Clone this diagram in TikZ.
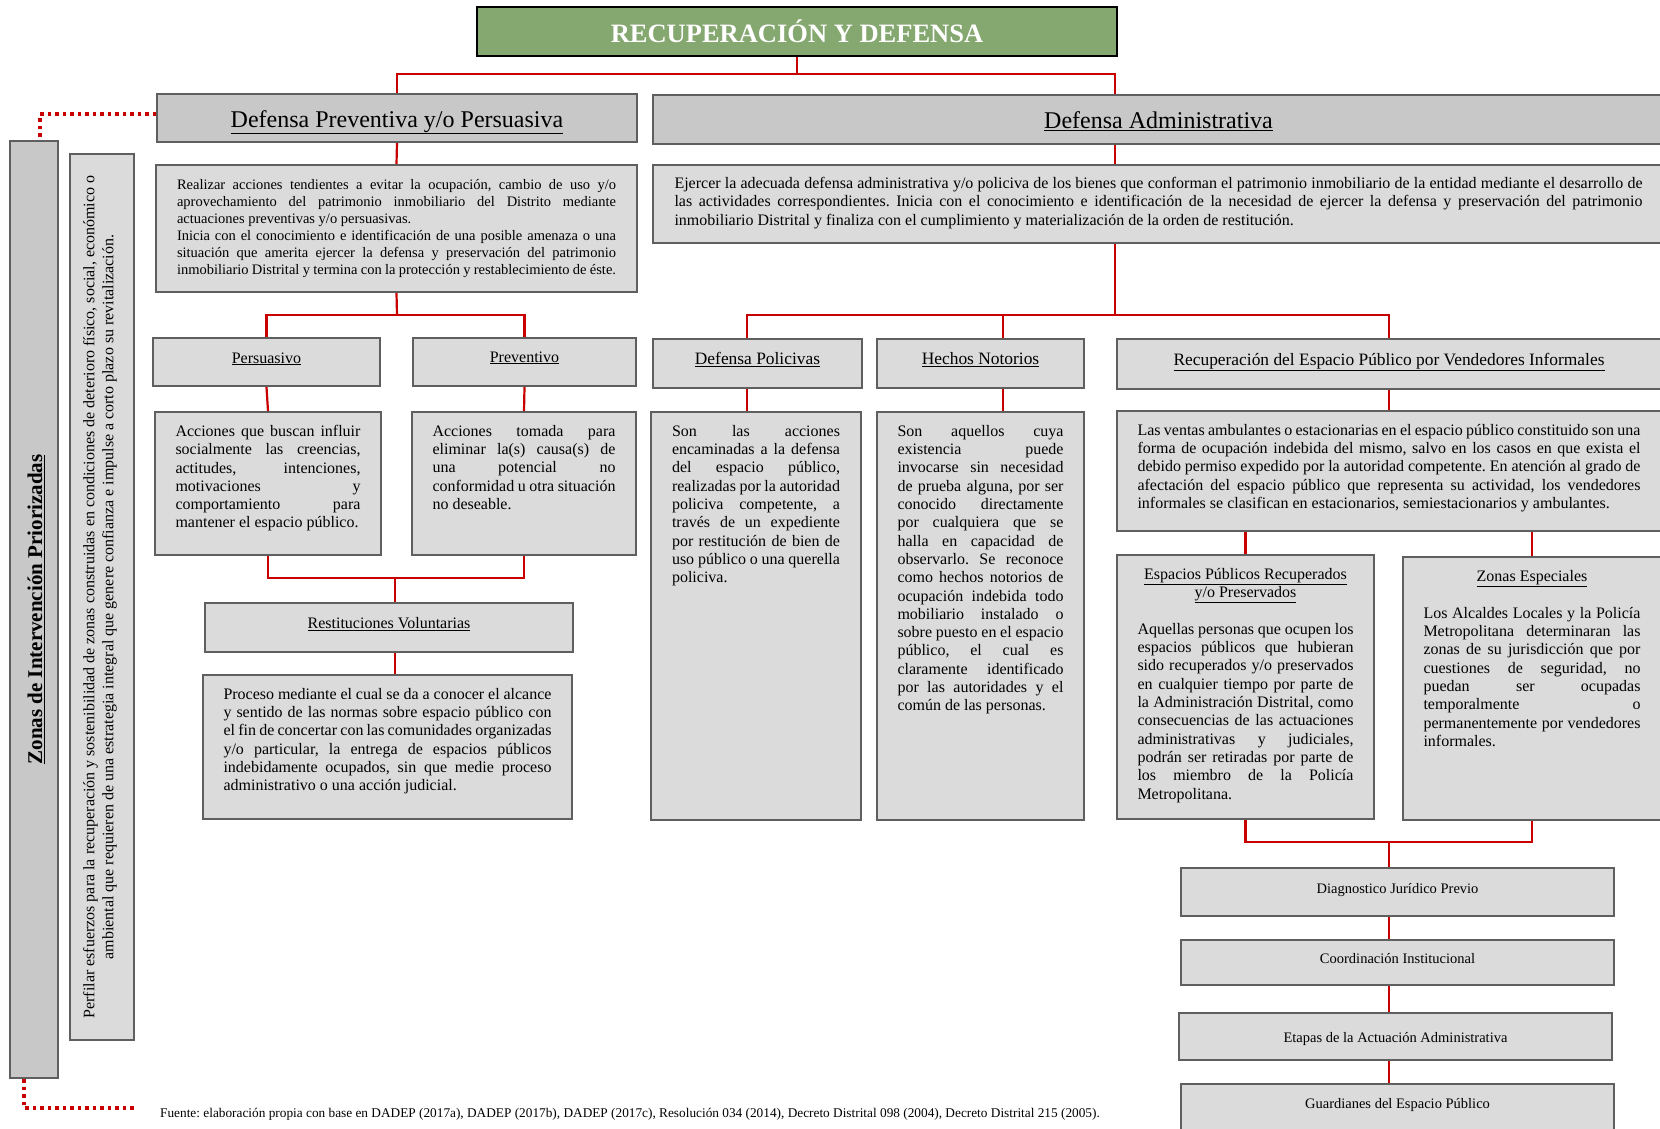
\documentclass[tikz,border=0pt]{standalone}
\usepackage{fontspec}
\setmainfont{Liberation Serif}
\usetikzlibrary{fit,positioning}
\definecolor{titlegreen}{RGB}{133,167,112}
\definecolor{darkbox}{RGB}{200,200,200}
\definecolor{lightbox}{RGB}{219,219,219}
\definecolor{edge}{RGB}{95,95,95}
\definecolor{linkred}{RGB}{200,0,0}
\newcommand{\fsz}[2]{\fontsize{#1}{#2}\selectfont}
\hyphenpenalty=10000
\exhyphenpenalty=10000
\tolerance=10000
\hbadness=10000
\frenchspacing
\setlength{\parindent}{0pt}

\begin{document}
\begin{tikzpicture}[x=1pt,y=-1pt]
\tikzstyle{every node}+=[inner sep=0pt]
\tikzstyle{titlebox}=[draw=black, line width=2pt, fill=titlegreen, text=white, font=\bfseries\fsz{26.5}{30}]
\tikzstyle{headbox}=[draw=edge, line width=2pt, fill=darkbox]
\tikzstyle{plainbox}=[draw=edge, line width=2pt, fill=lightbox]
\tikzstyle{bigtitle}=[font=\fsz{24}{28}, text height=19.5pt, text depth=1.5pt]
\tikzstyle{subtitle}=[text height=6pt, text depth=4pt]
\tikzstyle{bodytext}=[align=justify, font=\fsz{16}{18.3}]
\tikzstyle{link}=[draw=linkred, line width=2.2pt]
\tikzstyle{dotlink}=[draw=linkred, line width=3.5pt, dash pattern=on 3.5pt off 4pt]
\clip (0,0) rectangle (1660,1128);
\node[titlebox, minimum width=640pt, minimum height=49pt] (rd) at (797,31.5) {RECUPERACIÓN Y DEFENSA};
\node[headbox, bigtitle, minimum width=480pt, minimum height=48pt] (dp) at (397,118) {\underline{Defensa Preventiva y/o Persuasiva}};
\node[headbox, bigtitle, minimum width=1011pt, minimum height=49pt] (da) at (1158.5,119.5) {\underline{Defensa Administrativa}};
\node[plainbox, fit={(156,165) (637,292)}] (dpd) {};
\node[bodytext, font=\fsz{14.5}{17}, text width=439pt, below=15pt of dpd.north] (dpdt) {Realizar acciones tendientes a evitar la ocupación, cambio de uso y/o\linebreak aprovechamiento del patrimonio inmobiliario del Distrito mediante\linebreak actuaciones preventivas y/o persuasivas.\\Inicia con el conocimiento e identificación de una posible amenaza o una\linebreak situación que amerita ejercer la defensa y preservación del patrimonio\linebreak inmobiliario Distrital y termina con la protección y restablecimiento de éste.};
\node[plainbox, fit={(653,165) (1664,243)}] (dad) {};
\node[bodytext, text width=968pt, below=13pt of dad.north] (dadt) {Ejercer la adecuada defensa administrativa y/o policiva de los bienes que conforman el patrimonio inmobiliario de la entidad mediante el desarrollo de\linebreak las actividades correspondientes. Inicia con el conocimiento e identificación de la necesidad de ejercer la defensa y preservación del patrimonio\linebreak inmobiliario Distrital y finaliza con el cumplimiento y materialización de la orden de restitución.};
\node[plainbox, subtitle, minimum width=227pt, minimum height=48pt, font=\fsz{16}{18}] (pers) at (266.5,362) {\underline{Persuasivo}};
\node[plainbox, minimum width=223pt, minimum height=48pt, font=\fsz{16}{18}, text height=5pt, text depth=5pt] (prev) at (524.5,362) {\underline{Preventivo}};
\node[plainbox, fit={(155,412) (381,555)}] (persd) {};
\node[bodytext, text width=185pt, below=14pt of persd.north] (persdt) {Acciones que buscan influir\linebreak socialmente las creencias,\linebreak actitudes, intenciones,\linebreak motivaciones y\linebreak comportamiento para\linebreak mantener el espacio público.};
\node[plainbox, fit={(412,412) (636,555)}] (prevd) {};
\node[bodytext, text width=183pt, below=14pt of prevd.north] (prevdt) {Acciones tomada para\linebreak eliminar la(s) causa(s) de\linebreak una potencial no\linebreak conformidad u otra situación\linebreak no deseable.};
\node[plainbox, subtitle, minimum width=368pt, minimum height=49pt, font=\fsz{16}{18}] (rest) at (389,627.5) {\underline{Restituciones Voluntarias}};
\node[plainbox, fit={(203,675) (572,819)}] (restd) {};
\node[bodytext, text width=328pt, below=14pt of restd.north] (restdt) {Proceso mediante el cual se da a conocer el alcance\linebreak y sentido de las normas sobre espacio público con\linebreak el fin de concertar con las comunidades organizadas\linebreak y/o particular, la entrega de espacios públicos\linebreak indebidamente ocupados, sin que medie proceso\linebreak administrativo o una acción judicial.};
\node[plainbox, subtitle, minimum width=209pt, minimum height=49pt, font=\fsz{17.4}{20}] (pol) at (757.5,363.5) {\underline{Defensa Policivas}};
\node[plainbox, subtitle, minimum width=207pt, minimum height=49pt, font=\fsz{17.4}{20}] (hech) at (980.5,363.5) {\underline{Hechos Notorios}};
\node[plainbox, subtitle, minimum width=544pt, minimum height=50pt, font=\fsz{17.4}{20}] (rec) at (1389,364) {\underline{Recuperación del Espacio Público por Vendedores Informales}};
\node[plainbox, fit={(651,412) (861,820)}] (pold) {};
\node[bodytext, text width=168pt, below=14pt of pold.north] (poldt) {Son las acciones\linebreak encaminadas a la defensa\linebreak del espacio público,\linebreak realizadas por la autoridad\linebreak policiva competente, a\linebreak través de un expediente\linebreak por restitución de bien de\linebreak uso público o una querella\linebreak policiva.};
\node[plainbox, fit={(877,412) (1084,820)}] (hechd) {};
\node[bodytext, text width=166pt, below=14pt of hechd.north] (hechdt) {Son aquellos cuya\linebreak existencia puede\linebreak invocarse sin necesidad\linebreak de prueba alguna, por ser\linebreak conocido directamente\linebreak por cualquiera que se\linebreak halla en capacidad de\linebreak observarlo. Se reconoce\linebreak como hechos notorios de\linebreak ocupación indebida todo\linebreak mobiliario instalado o\linebreak sobre puesto en el espacio\linebreak público, el cual es\linebreak claramente identificado\linebreak por las autoridades y el\linebreak común de las personas.};
\node[plainbox, fit={(1117,411) (1661,531)}] (recd) {};
\node[bodytext, text width=503pt, below=14pt of recd.north] (recdt) {Las ventas ambulantes o estacionarias en el espacio público constituido son una\linebreak forma de ocupación indebida del mismo, salvo en los casos en que exista el\linebreak debido permiso expedido por la autoridad competente. En atención al grado de\linebreak afectación del espacio público que representa su actividad, los vendedores\linebreak informales se clasifican en estacionarios, semiestacionarios y ambulantes.};
\node[plainbox, fit={(1117,555) (1374,819)}] (esp) {};
\node[align=center, font=\fsz{16}{18.3}, below=14pt of esp.north] (espt) {\underline{Espacios Públicos Recuperados}\\\underline{y/o Preservados}};
\node[bodytext, text width=216pt, below=69pt of esp.north] (espb) {Aquellas personas que ocupen los\linebreak espacios públicos que hubieran\linebreak sido recuperados y/o preservados\linebreak en cualquier tiempo por parte de\linebreak la Administración Distrital, como\linebreak consecuencias de las actuaciones\linebreak administrativas y judiciales,\linebreak podrán ser retiradas por parte de\linebreak los miembro de la Policía\linebreak Metropolitana.};
\node[plainbox, fit={(1403,557) (1661,820)}] (zesp) {};
\node[font=\fsz{16}{18.3}, below=14pt of zesp.north] (zespt) {\underline{Zonas Especiales}};
\node[bodytext, text width=217pt, below=51pt of zesp.north] (zespb) {Los Alcaldes Locales y la Policía\linebreak Metropolitana determinaran las\linebreak zonas de su jurisdicción que por\linebreak cuestiones de seguridad, no\linebreak puedan ser ocupadas\linebreak temporalmente o\linebreak permanentemente por vendedores\linebreak informales.};
\node[plainbox, subtitle, minimum width=433pt, minimum height=48pt, font=\fsz{14.5}{17}] (diag) at (1397.5,892) {Diagnostico Jurídico Previo};
\node[plainbox, subtitle, minimum width=433pt, minimum height=45pt, font=\fsz{14.5}{17}] (coord) at (1397.5,962.5) {Coordinación Institucional};
\node[plainbox, minimum width=433pt, minimum height=47pt, font=\fsz{14.5}{17}, text height=14pt, text depth=2pt] (etap) at (1395.5,1036.5) {Etapas de la Actuación Administrativa};
\node[plainbox, minimum width=433pt, minimum height=48pt, font=\fsz{14.5}{17}, text height=5pt, text depth=5pt] (guard) at (1397.5,1108) {Guardianes del Espacio Público};
\node[headbox, fit={(10,141) (58,1078)}] (zon) {};
\node[rotate=90, font=\bfseries\fsz{21}{24}] (zont) at ([xshift=2pt]zon.center) {\underline{Zonas de Intervención Priorizadas}};
\node[plainbox, fit={(70,154) (134,1040)}] (perf) {};
\node[rotate=90, align=center, font=\fsz{16}{19}] (perft) at ([xshift=-2pt]perf.center) {Perfilar esfuerzos para la recuperación y sostenibilidad de zonas construidas en condiciones de deterioro físico, social, económico o\\ambiental que requieren de una estrategia integral que genere confianza e impulse a corto plazo su revitalización.};
\node[anchor=west, font=\fsz{13.3}{15}] (src) at (160,1114) {Fuente: elaboración propia con base en DADEP (2017a), DADEP (2017b), DADEP (2017c), Resolución 034 (2014), Decreto Distrital 098 (2004), Decreto Distrital 215 (2005).};
\coordinate (j1) at (797,74);
\coordinate (j2) at (1115,74);
\coordinate (j3) at (397,315);
\coordinate (j4) at (395,578);
\coordinate (j5) at (1115,315);
\coordinate (pl) at (747,315);
\coordinate (hn) at (1003,315);
\coordinate (j6) at (1389,842);
\draw[link] (rd.south) -- (j1);
\draw[link] (dp.north) |- (j2) -- (j2 |- da.north);
\draw[link] (dp.south) -- (dpd.north);
\draw[link] (j2 |- da.south) -- (j2 |- dad.north);
\draw[link] (dpd.south) -- (j3);
\draw[link] (pers.north) |- (j3) -| (prev.north);
\draw[link] (pers.south) -- (persd.north);
\draw[link] (prev.south) -- (prevd.north);
\draw[link] (persd.south) |- (j4) -| (prevd.south);
\draw[link] (j4) -- (j4 |- rest.north);
\draw[link] (j4 |- rest.south) -- (j4 |- restd.north);
\draw[link] (j2 |- dad.south) -- (j5);
\draw[link] (pl |- pol.north) -- (pl) -- (rec.north |- pl) -- (rec.north);
\draw[link] (hn) -- (hn |- hech.north);
\draw[link] (pl |- pol.south) -- (pl |- pold.north);
\draw[link] (hn |- hech.south) -- (hn |- hechd.north);
\draw[link] (rec.south) -- (recd.north);
\draw[link] (esp.north |- recd.south) -- (esp.north);
\draw[link] (zesp.north |- recd.south) -- (zesp.north);
\draw[link] (esp.south) |- (j6) -| (zesp.south);
\draw[link] (j6) -- (j6 |- diag.north);
\draw[link] (j6 |- diag.south) -- (j6 |- coord.north);
\draw[link] (j6 |- coord.south) -- (j6 |- etap.north);
\draw[link] (j6 |- etap.south) -- (j6 |- guard.north);
\draw[dotlink] ([yshift=4pt]dp.west) -| ([xshift=6pt]zon.north);
\draw[dotlink] ([xshift=-10pt]zon.south) |- ([xshift=-24pt,yshift=6pt]src.west);
\end{tikzpicture}
\end{document}
